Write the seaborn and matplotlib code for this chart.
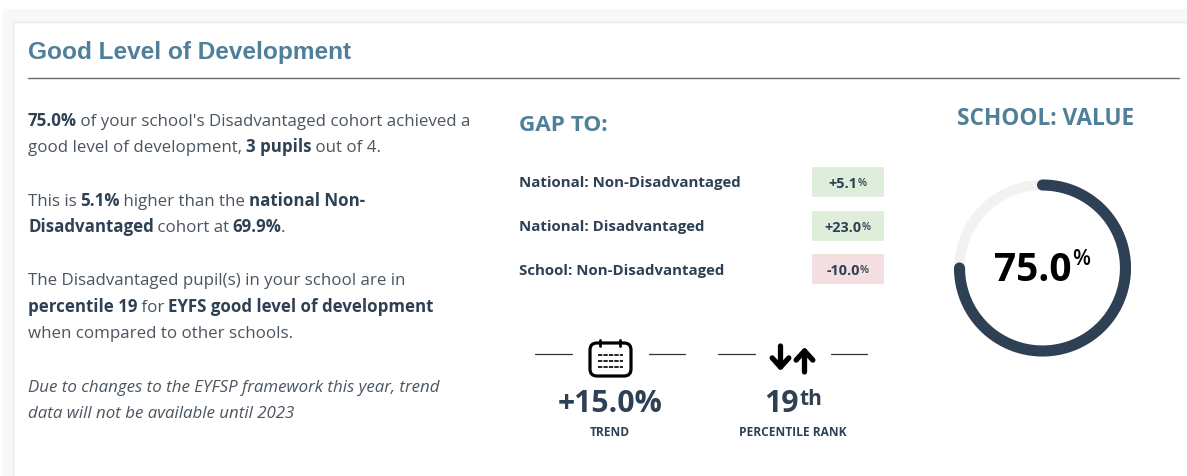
import numpy as np
import pandas as pd
import seaborn as sns
import matplotlib.pyplot as plt
from matplotlib.patches import FancyBboxPatch, Rectangle

# Values
title = 'Good Level of Development'
gap_labels = ['National: Non-Disadvantaged', 'National: Disadvantaged', 'School: Non-Disadvantaged']
gap_values = ['+5.1', '+23.0', '-10.0']
gauge_value = 75.0
trend_value = '+15.0%'
percentile_value = '19'

# (text, style) runs per line of the left column
para_lines = [
    (126, [('75.0%', 'b'), (" of your school's Disadvantaged cohort achieved a", 'n')]),
    (152, [('good level of development, ', 'n'), ('3 pupils', 'b'), (' out of 4.', 'n')]),
    (205.5, [('This is ', 'n'), ('5.1%', 'b'), (' higher than the ', 'n'), ('national Non-', 'b')]),
    (231.5, [('Disadvantaged', 'b'), (' cohort at ', 'n'), ('69.9%', 'b'), ('.', 'n')]),
    (285, [('The Disadvantaged pupil(s) in your school are in', 'n')]),
    (311.5, [('percentile 19', 'b'), (' for ', 'n'), ('EYFS good level of development', 'b')]),
    (338, [('when compared to other schools.', 'n')]),
    (391.5, [('Due to changes to the EYFSP framework this year, trend', 'i')]),
    (418, [('data will not be available until 2023', 'i')]),
]

DARK = '#2e4053'
BODY = '#4a5560'
TEAL = '#4f7f99'
FONT = 'Open Sans'

sns.set_theme(style='white')
plt.rcParams['font.family'] = [FONT, 'DejaVu Sans']

fig = plt.figure(figsize=(11.87, 4.76), dpi=100, facecolor='white')
ax = fig.add_axes([0, 0, 1, 1])
ax.set_xlim(0, 1187)
ax.set_ylim(476, 0)
ax.axis('off')

# page background and card
ax.add_patch(Rectangle((3, 9), 1190, 480, fc='#f7f8fa', ec='none'))
ax.add_patch(Rectangle((13, 21.5), 1190, 480, fc='white', ec='#e6e9ef', lw=1))

ax.text(27.5, 59, title, family='Liberation Sans', weight='bold', fontsize=17.6, color=TEAL)
ax.plot([28, 1179], [77.5, 77.5], color='#6b6b6b', lw=1)

renderer = fig.canvas.get_renderer()


def draw_runs(x, y, runs, size):
    for txt, style in runs:
        kw = {'n': dict(color=BODY), 'b': dict(color=DARK, weight='bold'),
              'i': dict(color=BODY, style='italic')}[style]
        t = ax.text(x, y, txt.replace(' ', '\u00a0'), fontsize=size, **kw)
        x += t.get_window_extent(renderer).width - 0.7


for y, runs in para_lines:
    draw_runs(28, y, runs, 12.12)

# gap table
ax.text(519, 131, 'GAP TO:', fontsize=16.2, weight='bold', color=TEAL)
row_base = [187.5, 231.5, 275]
chip_top = [167, 211, 254]
for label, val, base, top in zip(gap_labels, gap_values, row_base, chip_top):
    ax.text(519, base, label, fontsize=10.85, weight='bold', color=DARK)
    col = '#f3dfe0' if val.startswith('-') else '#deeeda'
    ax.add_patch(FancyBboxPatch((813, top + 1), 70, 28, boxstyle='round,pad=1,rounding_size=2', fc=col, ec='none'))
    t = ax.text(843, base, val, fontsize=10.4, weight='bold', color=DARK, ha='center')
    right = t.get_window_extent(renderer).x1
    ax.text(right, base - 2, '%', fontsize=7.6, weight='semibold', color=DARK)

# trend and percentile blocks
for x0, x1 in [(535, 572), (649, 685), (718, 755), (831, 867)]:
    ax.plot([x0, x1], [354, 354], color='#333333', lw=0.9)

# calendar icon
ax.add_patch(FancyBboxPatch((590, 343), 41, 33, boxstyle='round,pad=0,rounding_size=7', fc='none', ec='black', lw=2.3))
for x in [600, 620]:
    ax.plot([x, x], [339.5, 346], color='black', lw=2, solid_capstyle='round')
for y, dash in [(355, (2.2, 0.6)), (361, (2.2, 0.6)), (367, (2.2, 0.6))]:
    ax.plot([598, 623], [y, y], color='#222222', lw=1.4, linestyle=(0, dash))

# up and down arrows
arrow = dict(arrowstyle='->,head_length=0.55,head_width=0.5', color='black', lw=3.8, shrinkA=0, shrinkB=0)
ax.annotate('', xy=(780.5, 371), xytext=(780.5, 346), arrowprops=arrow)
ax.annotate('', xy=(804.5, 347), xytext=(804.5, 372), arrowprops=arrow)

ax.text(610, 412, trend_value, fontsize=21.8, weight='bold', color=DARK, ha='center')
t = ax.text(764, 412, percentile_value, fontsize=21.8, weight='bold', color=DARK)
ax.text(t.get_window_extent(renderer).x1 + 0.5, 405, 'th', fontsize=15, weight='bold', color=DARK)
ax.text(610, 436, 'TREND', fontsize=8.6, weight='bold', color=DARK, ha='center')
ax.text(793, 436, 'PERCENTILE RANK', fontsize=8.6, weight='bold', color=DARK, ha='center')

# gauge
ax.text(1045.5, 125, 'SCHOOL: VALUE', fontsize=16.3, weight='bold', color=TEAL, ha='center')
cx, cy, box = 1042.5, 268, 100
gax = fig.add_axes([(cx - box) / 1187, 1 - (cy + box) / 476, 2 * box / 1187, 2 * box / 476], projection='polar')
gax.set_theta_zero_location('N')
gax.set_theta_direction(-1)
gax.patch.set_alpha(0)
track = pd.DataFrame({'theta': np.linspace(0, 2 * np.pi, 240), 'r': 83})
fill = pd.DataFrame({'theta': np.linspace(0, gauge_value / 100 * 2 * np.pi, 180), 'r': 83})
sns.lineplot(data=track, x='theta', y='r', ax=gax, sort=False, estimator=None, color='#f2f2f2', linewidth=7.4)
sns.lineplot(data=fill, x='theta', y='r', ax=gax, sort=False, estimator=None, color=DARK, linewidth=8)
gax.lines[-1].set_solid_capstyle('round')
gax.set_ylim(0, box)
gax.axis('off')

t = ax.text(1032.5, 281, f'{gauge_value:.1f}', fontsize=28, weight='bold', color='black', ha='center', zorder=5)
ax.text(t.get_window_extent(renderer).x1 + 0.5, 265, '%', fontsize=15, weight='semibold', color='black', zorder=5)

fig.savefig('out.png', dpi=100)
